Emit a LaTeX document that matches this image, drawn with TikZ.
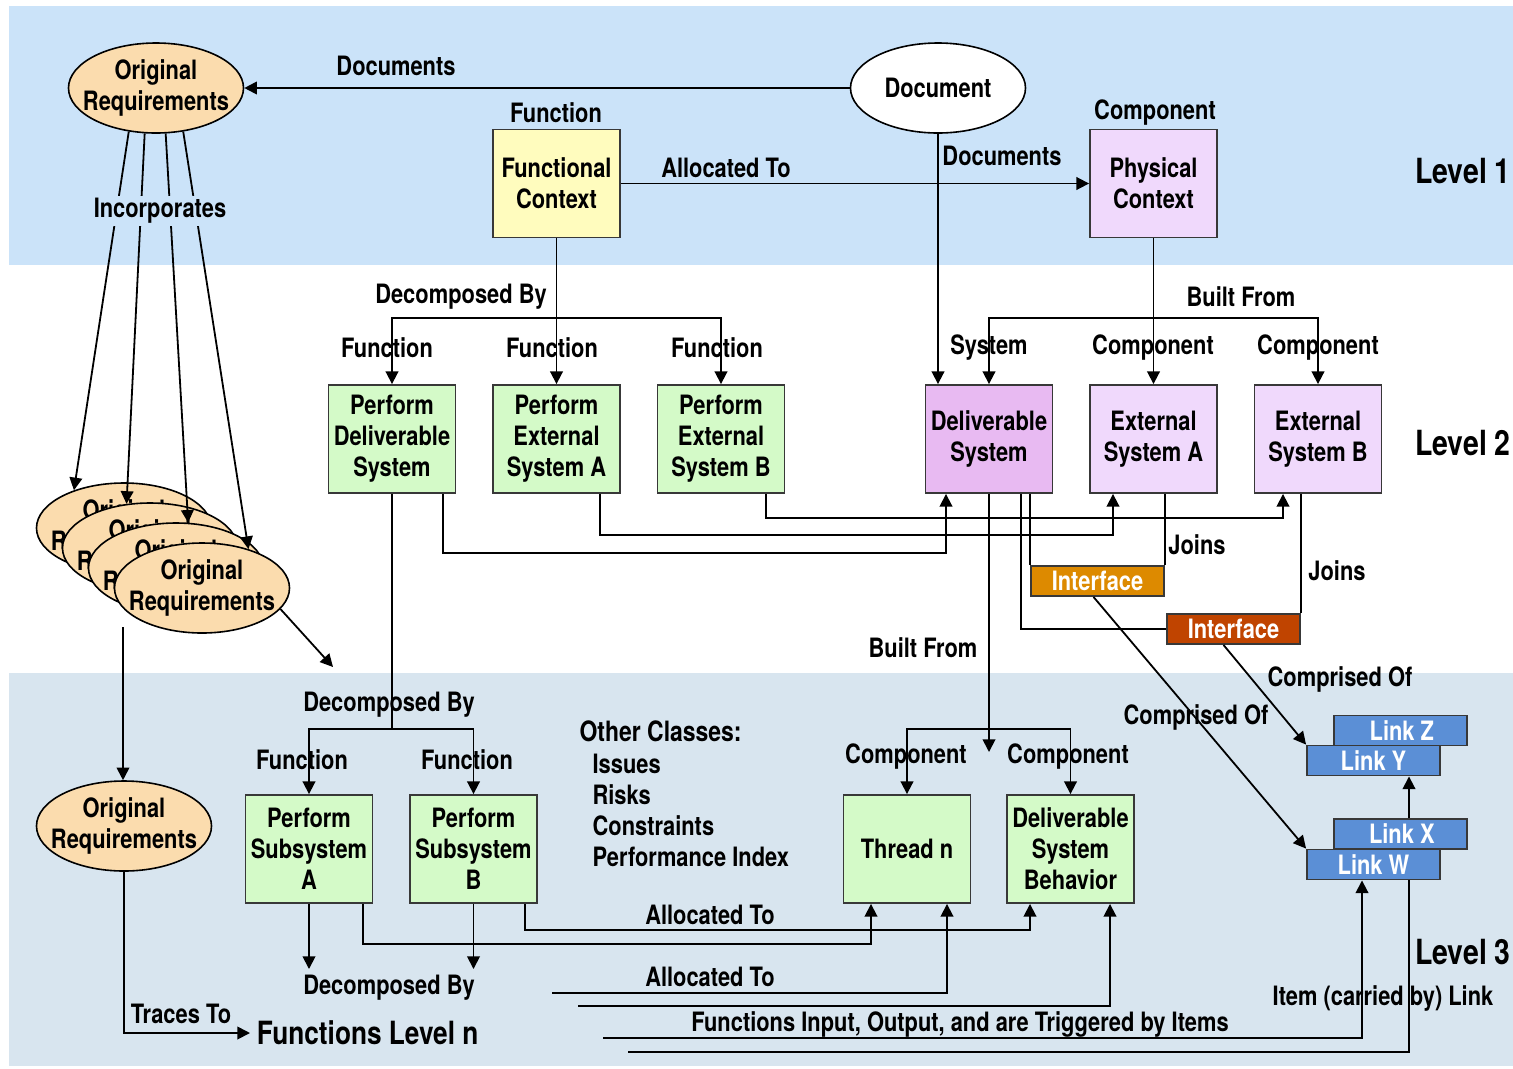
\documentclass[tikz,border=0pt]{standalone}
\usepackage{fontspec}
\setmainfont{TeX Gyre Heros}[FakeStretch=0.82]
\usetikzlibrary{shapes.geometric,arrows.meta,calc}
\definecolor{topband}{HTML}{CBE3F9}
\definecolor{botband}{HTML}{D8E5EF}
\definecolor{greenfill}{HTML}{D4FAC8}
\definecolor{yellowfill}{HTML}{FFFCBE}
\definecolor{lavfill}{HTML}{F0D9FC}
\definecolor{dsfill}{HTML}{E8BAF2}
\definecolor{peach}{HTML}{FBDCAE}
\definecolor{intone}{HTML}{DD8A00}
\definecolor{inttwo}{HTML}{C04400}
\definecolor{linkfill}{HTML}{5B8FD6}
\definecolor{boxline}{HTML}{383838}
\begin{document}
\begin{tikzpicture}[x=0.75pt,y=-0.75pt,
  every node/.style={font=\fontsize{20}{23.25}\selectfont\bfseries, align=center, inner sep=1pt},
  box/.style={draw=boxline, line width=1.4pt, minimum width=95.25pt, minimum height=81pt, inner sep=0pt},
  gbox/.style={box, fill=greenfill},
  ybox/.style={box, fill=yellowfill},
  pbox/.style={box, fill=lavfill},
  dbox/.style={box, fill=dsfill},
  ell/.style={ellipse, draw=black, line width=1.2pt, fill=peach, minimum width=131.25pt, minimum height=67.5pt, inner xsep=-9pt, inner ysep=2pt},
  ifc/.style={draw=boxline, line width=1.4pt, minimum width=99.75pt, minimum height=22.5pt, inner sep=0pt, text=white},
  lnk/.style={draw=boxline, line width=1.4pt, fill=linkfill, minimum width=99.75pt, minimum height=22.5pt, inner sep=0pt, text=white},
  lvl/.style={font=\fontsize{26}{30}\selectfont\bfseries, anchor=west, inner sep=0pt},
  con/.style={line width=1.35pt, draw=black},
  arr/.style={con, -{Triangle[length=9.5pt,width=9.5pt]}},
  arrtwo/.style={con, {Triangle[length=9.5pt,width=9.5pt]}-{Triangle[length=9.5pt,width=9.5pt]}},
]
% canvas and bands
\fill[white] (0,0) rectangle (1513,1068);
\fill[topband] (9,6) rectangle (1513,265);
\fill[botband] (9,673) rectangle (1513,1066);

% ---------- nodes ----------
\node[ell] (OR1) at (156,88) {Original\\Requirements};
\node[ell, fill=white] (Doc) at (938,88) {Document};
\node[ybox] (FC) at (556.5,183.5) {Functional\\Context};
\node[pbox] (PC) at (1153.5,183.5) {Physical\\Context};

\node[gbox] (PDS) at (392,439) {Perform\\Deliverable\\System};
\node[gbox] (PESA) at (556.5,439) {Perform\\External\\System A};
\node[gbox] (PESB) at (721,439) {Perform\\External\\System B};
\node[dbox] (DS) at (989,439) {Deliverable\\System};
\node[pbox] (ESA) at (1153.5,439) {External\\System A};
\node[pbox] (ESB) at (1318,439) {External\\System B};

\node[ell] (S1) at (124,528) {Original\\Requirements};
\node[ell] (S2) at (150,548) {Original\\Requirements};
\node[ell] (S3) at (176,568) {Original\\Requirements};
\node[ell] (S4) at (202,588) {Original\\Requirements};

\node[ifc, fill=intone] (Int1) at (1097.5,581) {Interface};
\node[ifc, fill=inttwo] (Int2) at (1233.5,629) {Interface};

\node[ell] (OR3) at (124,826) {Original\\Requirements};
\node[gbox] (PSA) at (309,849) {Perform\\Subsystem\\A};
\node[gbox] (PSB) at (473.5,849) {Perform\\Subsystem\\B};
\node[gbox] (Thread) at (907,849) {Thread n};
\node[gbox] (DSB) at (1070.5,849) {Deliverable\\System\\Behavior};

\node[lnk] (LinkZ) at (1400.5,730.5) {\hspace*{2pt}Link Z};
\node[lnk] (LinkY) at (1373.5,760.5) {Link Y};
\node[lnk] (LinkX) at (1400.5,834) {\hspace*{2pt}Link X};
\node[lnk] (LinkW) at (1373.5,864.5) {Link W};

\node[font=\fontsize{24}{28}\selectfont\bfseries, anchor=west, inner sep=5pt] (FLn) at (250,1033) {Functions Level n};

% ---------- labels ----------
\node (lDocs) at (396,66) {Documents};
\node (lFunc0) at (556,113) {Function};
\node (lComp0) at (1155,113) {Component};
\node (lAlloc0) at (726,168) {Allocated To};
\node (lDocs2) at (1002,156) {Documents};
\node[lvl] (lv1) at (1415,171) {Level 1};

\node (lDec1) at (461,297) {Decomposed By};
\node (lF1) at (387,348) {Function};
\node (lF2) at (552,348) {Function};
\node (lF3) at (717,348) {Function};
\node (lBuilt1) at (1241,297) {Built From};
\node (lSys) at (989,348) {System};
\node (lC1) at (1153,348) {Component};
\node (lC2) at (1318,348) {Component};
\node[lvl] (lv2) at (1415,443) {Level 2};
\node (lJoin1) at (1197,545) {Joins};
\node (lJoin2) at (1337,571) {Joins};
\node (lBuilt2) at (923,648) {Built From};

\node (lDec2) at (389,705) {Decomposed By};
\node (lF4) at (302,760) {Function};
\node (lF5) at (467,760) {Function};
\node (lC3) at (906,757) {Component};
\node (lC4) at (1068,757) {Component};
\node[anchor=west, font=\fontsize{21}{25}\selectfont\bfseries] (lOther) at (578,731) {Other Classes:};
\node[anchor=west] (lIss) at (591,764) {Issues};
\node[anchor=west] (lRisk) at (591,795) {Risks};
\node[anchor=west] (lCons) at (591,826) {Constraints};
\node[anchor=west] (lPerf) at (591,857) {Performance Index};
\node (lAlloc1) at (710,915) {Allocated To};
\node (lAlloc2) at (710,977) {Allocated To};
\node (lDec3) at (389,988) {Decomposed By};
\node (lTrace) at (181,1014) {Traces To};
\node (lFIO) at (960,1024) {Functions Input, Output, and are Triggered by Items};
\node[lvl] (lv3) at (1415,952) {Level 3};

% ---------- connectors ----------
\draw[arr] (Doc) -- (OR1);
\draw[arr] (FC) -- (PC);
\draw[arr] (Doc.south) -- (Doc.south |- DS.north);

\draw[arr] (OR1.238) -- (S1.143);
\draw[arr] (OR1.256) -- (S2.118);
\draw[arr] (OR1.282) -- (S3.75);
\draw[arr] (OR1.302) -- (S4.40);

\coordinate (bar1) at (557,318);
\draw[arrtwo] (PDS) |- (bar1) -| (PESB);
\draw[arr] (FC) -- (PESA);

\coordinate (bar2) at (1155,318);
\draw[arrtwo] (DS) |- (bar2) -| (ESB);
\draw[arr] (PC) -- (ESA);

\coordinate (r1) at (443,553); \coordinate (r1e) at (946,553);
\draw[arr] (PDS.south -| r1) -- (r1) -- (r1e) -- (r1e |- DS.south);
\coordinate (r2) at (600,535); \coordinate (r2e) at (1113,535);
\draw[arr] (PESA.south -| r2) -- (r2) -- (r2e) -- (r2e |- ESA.south);
\coordinate (r3) at (766,518); \coordinate (r3e) at (1283,518);
\draw[arr] (PESB.south -| r3) -- (r3) -- (r3e) -- (r3e |- ESB.south);

\draw[con] (DS.south -| Int1.north west) -- (Int1.north west);
\draw[con] (ESA.south -| Int1.north east) -- (Int1.north east);
\coordinate (c1021) at (1021,629);
\draw[con] (DS.south -| c1021) -- (c1021) -- (Int2.west);
\draw[con] (ESB.south -| Int2.north east) -- (Int2.north east);

\coordinate (f3) at (989,752);
\draw[arr] (DS) -- (f3);
\coordinate (bar3) at (989,729);
\draw[arrtwo] (Thread) |- (bar3) -| (DSB);

\coordinate (bar4) at (392,729);
\draw[con] (PDS) -- (bar4);
\draw[arrtwo] (PSA) |- (bar4) -| (PSB);
\coordinate (fA) at (309,969); \coordinate (fB) at (473.5,969);
\draw[arr] (PSA) -- (fA);
\draw[arr] (PSB) -- (fB);

\coordinate (a1) at (525,930); \coordinate (a1e) at (1030,930);
\draw[arr] (PSB.south -| a1) -- (a1) -- (a1e) -- (a1e |- DSB.south);
\coordinate (a2) at (363,944); \coordinate (a2e) at (871,944);
\draw[arr] (PSA.south -| a2) -- (a2) -- (a2e) -- (a2e |- Thread.south);
\coordinate (a3) at (552,993); \coordinate (a3e) at (947,993);
\draw[arr] (a3) -- (a3e) -- (a3e |- Thread.south);
\coordinate (a4) at (578,1006); \coordinate (a4e) at (1110,1006);
\draw[arr] (a4) -- (a4e) -- (a4e |- DSB.south);
\coordinate (a5) at (603,1038); \coordinate (a5e) at (1362,1038);
\draw[arr] (a5) -- (a5e) -- (a5e |- LinkW.south);
\coordinate (a6) at (628,1052); \coordinate (a6e) at (1409,1052);
\draw[con] (a6) -- (a6e) -- (a6e |- LinkW.south);
\draw[arr] (a6e |- LinkX.north) -- (a6e |- LinkY.south);

\draw[arr] ($(Int1.south)+(-4,0)$) -- (LinkW.north west);
\draw[arr] ($(Int2.south)+(-10,0)$) -- (LinkY.north west);

\coordinate (f1) at (333,667);
\draw[arr] (S4.-15) -- (f1);
\coordinate (f2) at (123,627);
\draw[arr] (f2) -- (f2 |- OR3.north);
\draw[arr] (OR3) |- (FLn.west);

% labels drawn over lines
\node[fill=topband, inner sep=2pt] (lInc) at (160,211) {Incorporates};
\node (lCompr1) at (1340,679) {Comprised Of};
\node (lCompr2) at (1196,717) {Comprised Of};
\node (lItem) at (1383,998) {Item (carried by) Link};
\end{tikzpicture}
\end{document}
